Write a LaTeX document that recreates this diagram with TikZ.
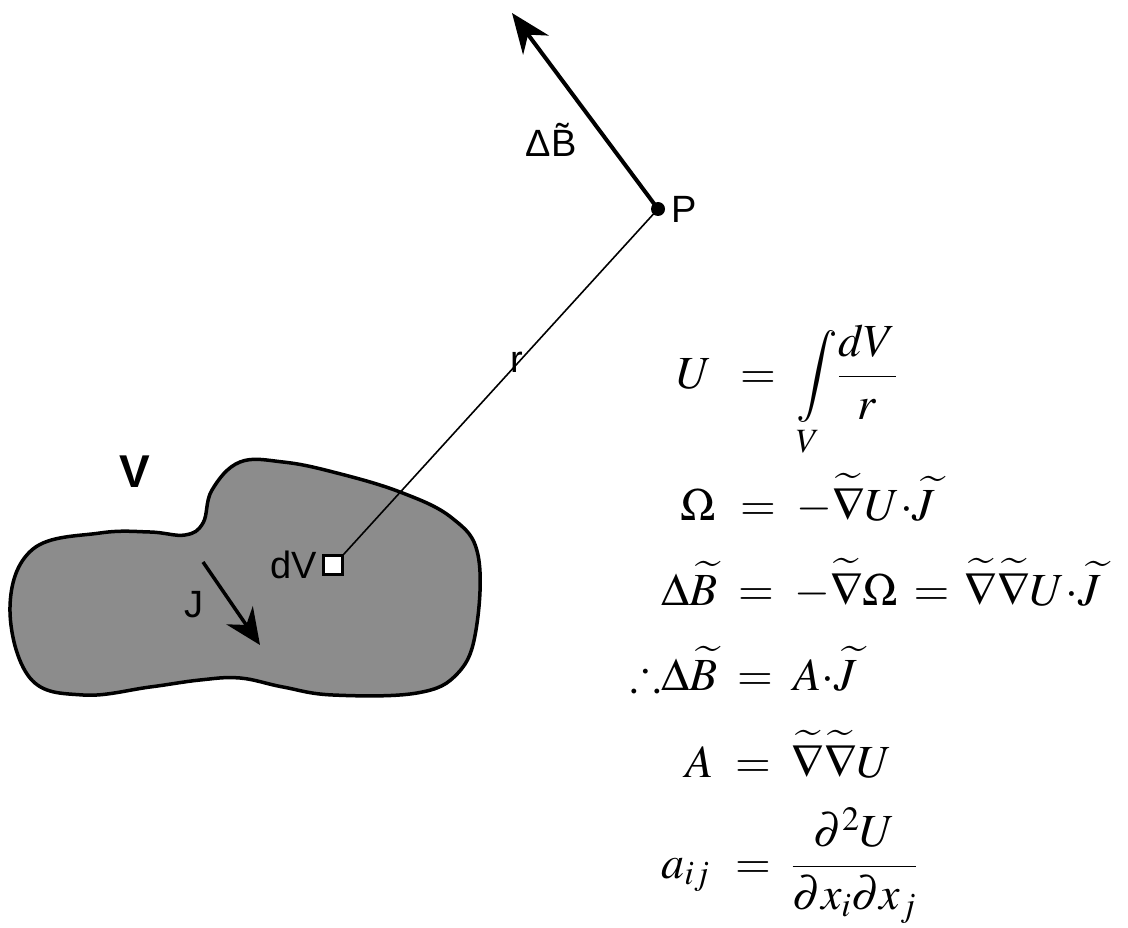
\documentclass[tikz,border=0pt]{standalone}
\usepackage{amsmath}
\usepackage{mathptmx}
\usepackage{amssymb}
\usepackage{fontspec}
\newfontfamily\lblfont{Liberation Sans}
\usetikzlibrary{arrows.meta,positioning}
\newcommand{\eqsize}{\fontsize{46}{54}\selectfont}
\newcommand{\lblsize}{\lblfont\fontsize{38}{42}\selectfont}
\newcommand{\dotp}{\mathord{\cdot}}

\begin{document}
\begin{tikzpicture}[x=1pt,y=-1pt,
  lbl/.style={font=\lblsize,inner sep=0pt},
  eq/.style={font=\eqsize,inner sep=0pt},
  vec/.style={line width=4pt,-{Stealth[length=40pt,width=32pt]}}]
\useasboundingbox (0,0) rectangle (1128,928);
% the volume V
\filldraw[fill=black!45,line width=3.5pt] plot[smooth cycle,tension=0.65] coordinates {(10,607) (33,549) (100,533) (150,532) (185,535) (203,523) (212,490) (240,462) (283,462) (333,472) (400,492) (452,518) (478,555) (476,630) (458,673) (417,693) (333,695) (283,687) (240,678) (200,680) (150,687) (83,695) (30,678)};
\node[lbl,font=\lblfont\bfseries\fontsize{46}{50}\selectfont](Vlab) at (135,472){V};
% current J
\coordinate (Jtail) at (203,562);
\coordinate (Jtip) at (260,645);
\draw[vec,line width=3.5pt,-{Stealth[length=36pt,width=32pt]}](Jtail)--(Jtip);
\node[lbl](Jlab) at (194,605){J};
% element dV and point P
\node[draw,fill=white,line width=2.5pt,minimum size=19pt,inner sep=0pt](dV) at (333,565){};
\node[lbl,left=5pt of dV](dVlab){dV};
\node[circle,fill,inner sep=0pt,minimum size=14pt](P) at (658,209){};
\node[lbl,right=6pt of P](Plab){P};
\draw[line width=1.6pt](dV.north east)--(P.center);
\node[lbl](rlab) at (517,362){r};
% field at P
\coordinate (Btip) at (512,13);
\draw[vec](P.center)--(Btip);
\node[lbl](Blab) at (551,140){Δ\~B};
% equations
\node[eq,anchor=base east](U) at (712,388){$U$};
\node[eq,anchor=base west](Udef) at (740,388){$=\;\displaystyle\int\limits_V\!\frac{dV}{r}$};
\node[eq,anchor=base east](Om) at (716,520){$\Omega$};
\node[eq,anchor=base west](Omdef) at (740,520){$=\;-\widetilde{\nabla}U\dotp\widetilde{J}$};
\node[eq,anchor=base east](dB) at (718,605){$\Delta\widetilde{B}$};
\node[eq,anchor=base west](dBdef) at (738,605){$=\;-\widetilde{\nabla}\Omega\,=\,\widetilde{\nabla}\widetilde{\nabla}U\dotp\widetilde{J}$};
\node[eq,anchor=base east](tdB) at (718,690){$\mathord{\therefore}\Delta\widetilde{B}$};
\node[eq,anchor=base west](tdBdef) at (737,690){$=\;A\dotp\widetilde{J}$};
\node[eq,anchor=base east](A) at (714,777){$A$};
\node[eq,anchor=base west](Adef) at (735,777){$=\;\widetilde{\nabla}\widetilde{\nabla}U$};
\node[eq,anchor=base east](aij) at (710,878){$a_{ij}$};
\node[eq,anchor=base west](aijdef) at (735,878){$=\;\dfrac{\partial^2U}{\partial x_i\partial x_j}$};
\end{tikzpicture}
\end{document}
